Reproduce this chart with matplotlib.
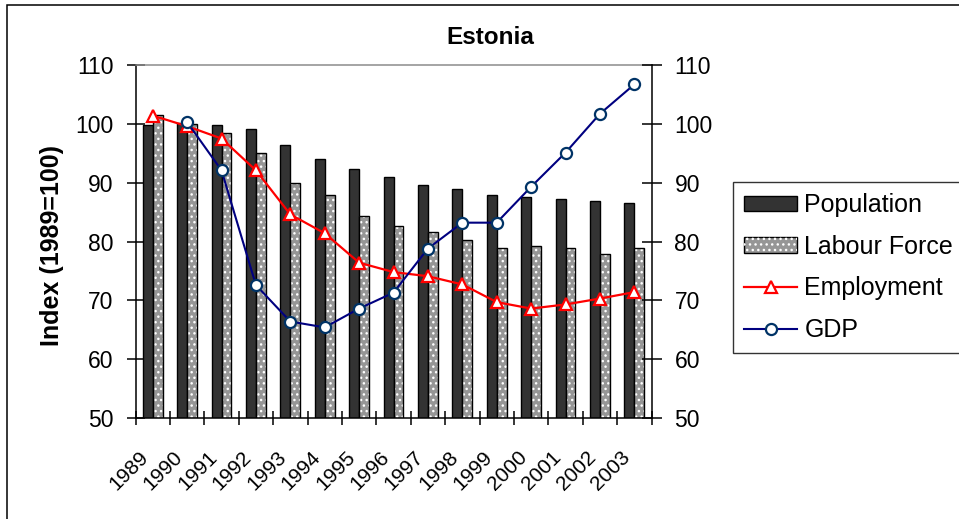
import matplotlib
matplotlib.use("Agg")
import matplotlib.pyplot as plt
import matplotlib.transforms as mtransforms
from matplotlib.patches import Patch, Rectangle
from matplotlib.lines import Line2D
import numpy as np

plt.rcParams['font.family'] = ['Liberation Sans', 'DejaVu Sans']
plt.rcParams['hatch.linewidth'] = 1.0

# Index values, 1989 = 100
years = ['1989', '1990', '1991', '1992', '1993', '1994', '1995', '1996',
         '1997', '1998', '1999', '2000', '2001', '2002', '2003']
population = [99.8, 100.2, 99.8, 99.1, 96.4, 94.0, 92.3, 90.9,
              89.6, 88.9, 87.9, 87.5, 87.2, 86.8, 86.5]
labour_force = [101.5, 100.0, 98.4, 95.0, 89.9, 87.9, 84.4, 82.7,
                81.6, 80.3, 78.9, 79.3, 78.9, 77.9, 78.9]
employment = [101.4, 99.6, 97.5, 92.1, 84.6, 81.4, 76.4, 74.8,
              74.1, 72.7, 69.7, 68.6, 69.3, 70.3, 71.4]
gdp = [np.nan, 100.3, 92.1, 72.6, 66.4, 65.4, 68.6, 71.3,
       78.8, 83.2, 83.2, 89.3, 95.1, 101.7, 106.7]

W, H, DPI = 959, 519, 100
fig = plt.figure(figsize=(W / DPI, H / DPI), dpi=DPI)
fig.patch.set_facecolor('white')

# plot area in pixels
left, right, top, bottom = 135.5, 651.5, 65, 418
ax = fig.add_axes([left / W, 1 - bottom / H, (right - left) / W, (bottom - top) / H])
ax.set_facecolor('none')

x = np.arange(len(years))
bw = 0.29
pop_col = '#333333'
lab_col = '#969696'

ax.bar(x - bw / 2, population, width=bw, color=pop_col,
       edgecolor='black', linewidth=1.0, zorder=2)
ax.bar(x + bw / 2, labour_force, width=bw, color=lab_col,
       edgecolor='none', linewidth=0, zorder=2)
ax.bar(x + bw / 2, labour_force, width=bw, facecolor='none',
       edgecolor='white', linewidth=0, hatch='...', zorder=2.1)
ax.bar(x + bw / 2, labour_force, width=bw, facecolor='none',
       edgecolor='black', linewidth=1.0, zorder=2.2)

ax.plot(x, employment, color='#ff0000', lw=1.6, marker='^',
        markersize=8.5, markerfacecolor='white',
        markeredgecolor='#ff0000', markeredgewidth=1.6, zorder=4)
ax.plot(x, gdp, color='#000080', lw=1.5, marker='o',
        markersize=8, markerfacecolor='white',
        markeredgecolor='#003366', markeredgewidth=1.6, zorder=5)

ax.set_xlim(-0.5, len(years) - 0.5)
ax.set_ylim(50, 110)
yt = [50, 60, 70, 80, 90, 100, 110]
ax.set_yticks(yt)
ax.set_yticklabels([str(v) for v in yt])
ax.tick_params(axis='y', direction='inout', length=13, width=1.1,
               labelsize=16.5, pad=9.5)

# category boundaries as ticks, year labels at category centres
ax.set_xticks(np.arange(len(years) + 1) - 0.5)
ax.set_xticklabels([])
ax.tick_params(axis='x', which='major', direction='inout', length=10,
               width=1.1)
ax.set_xticks(x, minor=True)
ax.set_xticklabels(years, minor=True, rotation=45, ha='right', va='top',
                   rotation_mode='anchor', fontsize=15)
ax.tick_params(axis='x', which='minor', length=0, pad=21)
shift = mtransforms.ScaledTranslation(-10 / 72, 0, fig.dpi_scale_trans)
for lab in ax.get_xticklabels(minor=True):
    lab.set_transform(lab.get_transform() + shift)

for s in ['left', 'bottom']:
    ax.spines[s].set_color('black')
    ax.spines[s].set_linewidth(1.1)
ax.spines['top'].set_color('#8c8c8c')
ax.spines['top'].set_linewidth(1.1)
ax.spines['right'].set_visible(False)

ax2 = ax.twinx()
ax2.set_ylim(50, 110)
ax2.set_yticks(yt)
ax2.set_yticklabels([str(v) for v in yt])
ax2.tick_params(axis='y', direction='inout', length=15, width=1.1,
                labelsize=16.5, pad=9)
for s in ['left', 'bottom', 'top']:
    ax2.spines[s].set_visible(False)
ax2.spines['right'].set_color('black')
ax2.spines['right'].set_linewidth(1.1)

fig.text(490 / W, 1 - 38 / H, 'Estonia', ha='center', va='center',
         fontsize=17.5, fontweight='bold')
fig.text(52 / W, 1 - 245 / H, 'Index (1989=100)', ha='center', va='center',
         rotation=90, fontsize=18, fontweight='bold')

# legend
h_pop = Patch(facecolor=pop_col, edgecolor='black', linewidth=1.0)
h_lab = (Patch(facecolor=lab_col, edgecolor='black', linewidth=1.0),
         Patch(facecolor='none', edgecolor='white', linewidth=0, hatch='...'))
h_emp = Line2D([], [], color='#ff0000', lw=1.6, marker='^', markersize=8.5,
               markerfacecolor='white', markeredgecolor='#ff0000',
               markeredgewidth=1.6)
h_gdp = Line2D([], [], color='#000080', lw=1.5, marker='o', markersize=8,
               markerfacecolor='white', markeredgecolor='#003366',
               markeredgewidth=1.6)
leg = fig.legend([h_pop, h_lab, h_emp, h_gdp],
                 ['Population', 'Labour Force', 'Employment', 'GDP'],
                 loc='upper left', bbox_to_anchor=(733 / W, 1 - 182 / H),
                 bbox_transform=fig.transFigure, fontsize=18,
                 frameon=True, fancybox=False, shadow=False,
                 handlelength=2.1, handleheight=0.56, handletextpad=0.3,
                 borderpad=0.45, labelspacing=0.7, borderaxespad=0)
leg.get_frame().set_edgecolor('black')
leg.get_frame().set_linewidth(1.0)

# outer chart border
fig.add_artist(Rectangle((7 / W, -0.1), 1.2, 1.1 - 5 / H,
                         transform=fig.transFigure, facecolor='none',
                         edgecolor='black', linewidth=1.1))

fig.savefig('out.png', dpi=DPI)
